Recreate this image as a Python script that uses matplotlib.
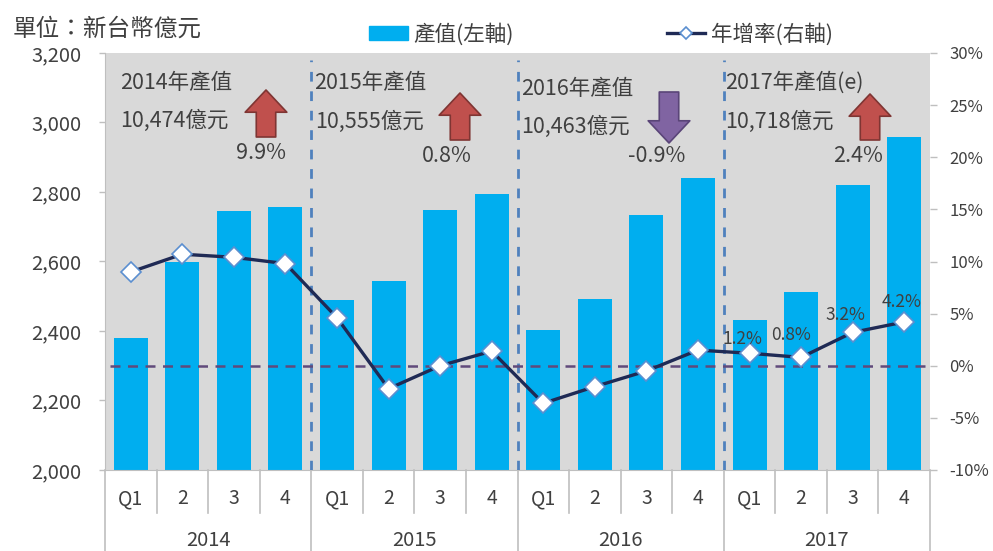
import matplotlib
matplotlib.use("Agg")
import matplotlib.pyplot as plt
import numpy as np
from matplotlib.lines import Line2D
from matplotlib.patches import Patch
from matplotlib.ticker import FuncFormatter

plt.rcParams['font.family'] = ['Noto Sans CJK TC', 'DejaVu Sans']

quarters = ["Q1", "2", "3", "4"] * 4
years = ["2014", "2015", "2016", "2017"]
output_value = [2380, 2599, 2745, 2757, 2490, 2544, 2748, 2795,
                2403, 2492, 2734, 2840, 2432, 2512, 2820, 2958]
growth_rate = [9.0, 10.7, 10.4, 9.8, 4.6, -2.2, 0.0, 1.4,
               -3.6, -2.0, -0.5, 1.5, 1.2, 0.8, 3.2, 4.2]
rate_labels = ["1.2%", "0.8%", "3.2%", "4.2%"]
year_titles = ["2014年產值", "2015年產值", "2016年產值", "2017年產值(e)"]
year_totals = ["10,474億元", "10,555億元", "10,463億元", "10,718億元"]
year_changes = ["9.9%", "0.8%", "-0.9%", "2.4%"]

W, H = 993, 551
BAR = "#00AEEF"
GREY = "#D9D9D9"
AXIS = "#BFBFBF"
LINE = "#1F2A55"
TEXT = "#404040"
UP = "#C0504D"
DOWN = "#8064A2"


def figpos(x, y):
    # pixel position in the picture -> figure fraction
    return x / W, 1 - y / H


fig = plt.figure(figsize=(W / 100, H / 100), dpi=100)
left, top = figpos(105, 53)
right, bottom = figpos(930, 470)
ax = fig.add_axes([left, bottom, right - left, top - bottom], facecolor=GREY)
ax2 = ax.twinx()

x = np.arange(16)
ax.bar(x, output_value, width=0.66, color=BAR, zorder=2)
ax.set_xlim(-0.5, 15.5)
ax.set_ylim(2000, 3200)
ax.set_yticks(np.arange(2000, 3201, 200))
ax.yaxis.set_major_formatter(FuncFormatter(lambda v, _: f"{v:,.0f}"))
ax.tick_params(axis="y", length=4, width=1, color=AXIS, pad=13, labelsize=14.5, labelcolor=TEXT)
ax.set_xticks([])
for s in ["top", "right"]:
    ax.spines[s].set_visible(False)
    ax2.spines[s].set_visible(False)
ax.spines["left"].set_color(AXIS)
ax.spines["bottom"].set_color(AXIS)
ax2.spines["left"].set_visible(False)
ax2.spines["bottom"].set_visible(False)

# year separators
ax.vlines([3.5, 7.5, 11.5], 2000, 3180, color="#4F81BD", linestyle=(0, (3.5, 3.5)), lw=2, zorder=3)

ax2.set_ylim(-10, 30)
ax2.set_yticks(np.arange(-10, 31, 5))
ax2.yaxis.set_major_formatter(FuncFormatter(lambda v, _: f"{v:.0f}%"))
ax2.tick_params(axis="y", length=5, width=1, color=AXIS, pad=9, labelsize=12, labelcolor=TEXT)
ax2.hlines(0, -0.4, 15.5, color="#604A7B", linestyle=(0, (4, 3)), lw=1.8, zorder=3)
ax2.plot(x, growth_rate, color=LINE, lw=2.4, marker="D", ms=10, mfc="white",
         mec="#5B8FD0", mew=1.2, zorder=4, clip_on=False)

# labels on the 2017 points
offsets = [(-5, 4), (-7, 10), (-5, 6), (-2, 8)]
for i, lab in enumerate(rate_labels):
    ax2.annotate(lab, (x[12 + i], growth_rate[12 + i]), xytext=offsets[i],
                 textcoords="offset points", ha="center", va="bottom",
                 fontsize=12.5, color=TEXT, zorder=5)

# two level category axis under the plot
tf = ax.get_xaxis_transform()
low = 1 - (513 - 53) / 417
deep = 1 - (551 - 53) / 417
for i in range(17):
    ax.plot([i - 0.5, i - 0.5], [0, deep if i % 4 == 0 else low], transform=tf,
            color=AXIS, lw=1.2, clip_on=False)
for i, q in enumerate(quarters):
    ax.text(i, 1 - (499 - 53) / 417, q, transform=tf, ha="center", va="center",
            fontsize=14, color=TEXT)
for i, yr in enumerate(years):
    ax.text(4 * i + 1.5, 1 - (541 - 53) / 417, yr, transform=tf, ha="center", va="center",
            fontsize=14.5, color=TEXT)

# yearly notes and arrows, placed by pixel
title_pos = [(120, 83), (314, 83), (521, 89), (725, 83)]
total_pos = [(120, 121), (315, 122), (521, 127), (725, 122)]
change_pos = [(286, 153), (472, 156), (685, 156), (883, 156)]
arrows = [(266, 90, 137), (460, 93, 140), (669, 143, 92), (870, 94, 140)]
for i in range(4):
    fig.text(*figpos(*title_pos[i]), year_titles[i], ha="left", va="center", fontsize=15.5, color=TEXT)
    fig.text(*figpos(*total_pos[i]), year_totals[i], ha="left", va="center", fontsize=15.5, color=TEXT)
    fig.text(*figpos(*change_pos[i]), year_changes[i], ha="right", va="center", fontsize=15.5, color=TEXT)
    ax_x, tip, tail = arrows[i]
    col = DOWN if tip > tail else UP
    fig.add_artist(plt.Annotation(
        "", xy=figpos(ax_x, tip), xytext=figpos(ax_x, tail),
        xycoords="figure fraction", textcoords="figure fraction",
        arrowprops=dict(width=14, headwidth=30, headlength=16, shrink=0,
                        facecolor=col, edgecolor="#7F3533" if col == UP else "#5A4578", lw=1.2),
    ))

fig.text(*figpos(13, 29), "單位：新台幣億元", ha="left", va="center", fontsize=17, color=TEXT)

handles = [Patch(color=BAR, label="產值(左軸)"),
           Line2D([], [], color=LINE, lw=2.4, marker="D", ms=6.5, mfc="white", mec="#5B8FD0",
                  mew=1.2, label="年增率(右軸)")]
fig.legend(handles=handles, ncol=2, loc="center", bbox_to_anchor=figpos(601, 34), frameon=False,
           fontsize=15.5, labelcolor=TEXT, handlelength=1.8, handleheight=0.64, handletextpad=0.25,
           columnspacing=7.1, borderpad=0, borderaxespad=0)

fig.savefig("out.png", dpi=100)
